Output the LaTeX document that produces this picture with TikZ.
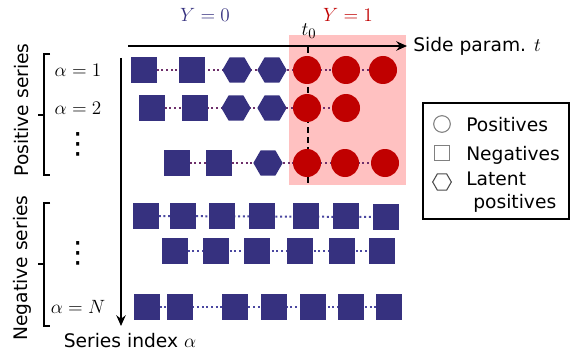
\documentclass[tikz,border=0pt]{standalone}
\usepackage{fontspec}
\setmainfont{DejaVu Sans}
\usetikzlibrary{arrows.meta,shapes.geometric}

\definecolor{serblue}{HTML}{36317F}
\definecolor{serred}{HTML}{C00000}
\definecolor{pinkzone}{HTML}{FFC1C1}
\definecolor{posdot}{HTML}{6E2F6A}
\definecolor{negdot}{HTML}{4A47A0}
\pgfdeclarelayer{back}
\pgfsetlayers{back,main}

\tikzset{
  negnode/.style={rectangle, fill=serblue, minimum size=18.8pt, inner sep=0pt},
  latnode/.style={regular polygon, regular polygon sides=6, fill=serblue, minimum size=22pt, inner sep=0pt},
  posnode/.style={circle, fill=serred, minimum size=21pt, inner sep=0pt},
  posline/.style={posdot, line width=1.5pt, dash pattern=on 1.5pt off 2pt},
  negline/.style={negdot, line width=1.5pt, dash pattern=on 1.5pt off 2pt},
  axis/.style={-{Stealth[length=8pt, width=7pt]}, line width=1.5pt},
  bracket/.style={line width=1.1pt},
  idxlabel/.style={font=\fontsize{15}{18}\selectfont},
  vdotlabel/.style={font=\fontsize{22}{24}\selectfont, inner sep=0pt},
  legsym/.style={draw=gray, line width=0.8pt, fill=white, inner sep=0pt}
}

\begin{document}
\begin{tikzpicture}[x=0.75pt, y=-0.75pt, font=\fontsize{14}{16.8}\selectfont]
\useasboundingbox (0,0) rectangle (573,356);

% Y = 1 region
\begin{pgfonlayer}{back}
\fill[pinkzone] (289,35) rectangle (406,185);
\end{pgfonlayer}

% axes
\coordinate (torig) at (128,46);
\coordinate (tend) at (407,46);
\draw[axis] (torig) -- (tend) node[right, inner sep=4pt] (tlabel) {Side param. $t$};
\coordinate (aorig) at (121,58);
\coordinate (aend) at (121,326);
\draw[axis] (aorig) -- (aend);
\node (alabel) at (130,341) {Series index $\alpha$};

\node[text=serblue, idxlabel] (yzero) at (205,15) {$Y=0$};
\node[text=serred, idxlabel] (yone) at (348,15) {$Y=1$};
\node[idxlabel] (tzero) at (309,31) {$t_0$};
\coordinate (tcut) at (308,186);
\draw[line width=1.2pt, dash pattern=on 4.5pt off 3pt] (308,47) -- (tcut);

% positive series
\path (144,70) node[negnode] (a1) {} (192,70) node[negnode] (a2) {} (237,70) node[latnode] (a3) {} (272,70) node[latnode] (a4) {}
      (307,70) node[posnode] (a5) {} (346,70) node[posnode] (a6) {} (383,70) node[posnode] (a7) {};
\path (152,108) node[negnode] (b1) {} (195,108) node[negnode] (b2) {} (236,108) node[latnode] (b3) {} (272,108) node[latnode] (b4) {}
      (307,108) node[posnode] (b5) {} (346,108) node[posnode] (b6) {};
\path (177,163) node[negnode] (c1) {} (219,163) node[negnode] (c2) {} (268,163) node[latnode] (c3) {}
      (307,163) node[posnode] (c4) {} (345,163) node[posnode] (c5) {} (385,163) node[posnode] (c6) {};

% negative series
\path (146,216) node[negnode] (d1) {} (183,216) node[negnode] (d2) {} (222,216) node[negnode] (d3) {} (262,216) node[negnode] (d4) {}
      (306,216) node[negnode] (d5) {} (346,216) node[negnode] (d6) {} (386,217) node[negnode] (d7) {};
\path (175,251) node[negnode] (e1) {} (216,251) node[negnode] (e2) {} (257,251) node[negnode] (e3) {}
      (300,251) node[negnode] (e4) {} (342,251) node[negnode] (e5) {} (382,251) node[negnode] (e6) {};
\path (147,307) node[negnode] (f1) {} (180,307) node[negnode] (f2) {} (235,307) node[negnode] (f3) {} (274,307) node[negnode] (f4) {}
      (313,307) node[negnode] (f5) {} (351,307) node[negnode] (f6) {} (389,307) node[negnode] (f7) {};

\begin{pgfonlayer}{back}
\draw[posline] (a1) -- (a7);
\draw[posline] (b1) -- (b6);
\draw[posline] (c1) -- (c6);
\draw[negline] (d1) -- (d7);
\draw[negline] (e1) -- (e6);
\draw[negline] (f1) -- (f7);
\end{pgfonlayer}

% left labels
\node[rotate=90] (posser) at (22,110) {Positive series};
\node[rotate=90] (negser) at (22,268) {Negative series};
\draw[bracket] (50,54) -- (44,54) -- (44,175) -- (50,175) (44,115) -- (38,115);
\draw[bracket] (50,203) -- (44,203) -- (44,326) -- (50,326) (44,264) -- (38,264);
\node[idxlabel] (al1) at (78,70) {$\alpha=1$};
\node[idxlabel] (al2) at (78,108) {$\alpha=2$};
\node[vdotlabel] (aldots) at (78,144) {⋮};
\node[vdotlabel] (negdots) at (78,253) {⋮};
\node[idxlabel] (alN) at (78,307) {$\alpha=N$};

% legend
\node[draw, line width=0.8pt, minimum width=109.5pt, minimum height=87pt] (legend) at (496,161) {};
\node[legsym, circle, minimum size=12.5pt] (lpos) at (442,124) {};
\node[legsym, rectangle, minimum size=11.5pt] (lneg) at (442,153) {};
\node[legsym, draw=black!70, regular polygon, regular polygon sides=6, minimum size=14pt] (llat) at (442,182) {};
\node[anchor=base west, inner sep=0pt] (tpos) at (466,131) {Positives};
\node[anchor=base west, inner sep=0pt] (tneg) at (466,160) {Negatives};
\node[anchor=base west, inner sep=0pt] (tlat) at (466,185) {Latent};
\node[anchor=base west, inner sep=0pt] (tlat2) at (473,208) {positives};
\end{tikzpicture}
\end{document}
